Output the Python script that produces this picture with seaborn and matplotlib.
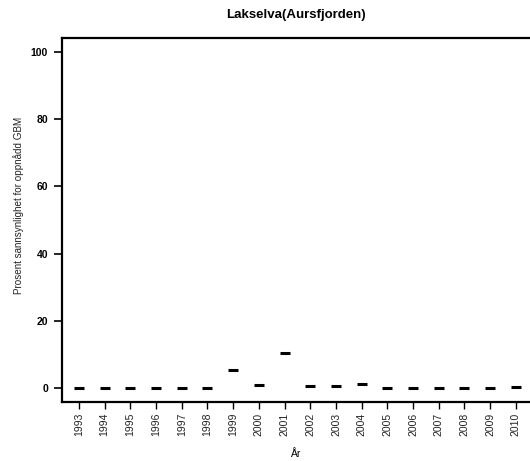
import matplotlib
matplotlib.use("Agg")
import matplotlib.pyplot as plt
import pandas as pd
import seaborn as sns

years = [str(y) for y in range(1993, 2011)]
percent = [0.0, 0.0, 0.0, 0.0, 0.0, 0.0, 5.4, 0.9, 10.4, 0.5, 0.5, 1.3,
           0.0, 0.0, 0.0, 0.0, 0.0, 0.2]
y_ticks = [0, 20, 40, 60, 80, 100]

df = pd.DataFrame({"year": years, "percent": percent})

sns.set_theme(style="white")
plt.rcParams["font.family"] = ["Liberation Sans", "DejaVu Sans"]
plt.rcParams["text.color"] = "black"
plt.rcParams["axes.labelcolor"] = "black"
plt.rcParams["xtick.color"] = "black"
plt.rcParams["ytick.color"] = "black"

fig = plt.figure(figsize=(5.30, 4.61), dpi=100)
ax = fig.add_axes([0.117, 0.129, 0.883, 0.789])

sns.scatterplot(data=df, x="year", y="percent", marker="_", s=55,
                linewidth=2.2, color="black", ax=ax, legend=False)

ax.set_xlim(-0.66, 17.55)
ax.set_ylim(-4.0, 104.2)
ax.set_yticks(y_ticks)
ax.set_yticklabels([str(t) for t in y_ticks], fontsize=7.5, fontweight="bold")
ax.tick_params(axis="y", direction="out", length=6, width=1.2, pad=4, left=True)
ax.tick_params(axis="x", direction="out", length=5, width=1.0, pad=3,
               labelrotation=90, labelsize=7.5, bottom=True, labelcolor="#222222")

for side in ["left", "bottom", "top"]:
    ax.spines[side].set_linewidth(1.6)
    ax.spines[side].set_color("black")
ax.spines["right"].set_visible(False)

ax.set_xlabel("År", fontsize=7.5, labelpad=9)
ax.set_ylabel("Prosent sannsynlighet for oppnådd GBM", fontsize=7.1,
              color="#222222")
ax.yaxis.set_label_coords(-0.082, 0.54)
ax.set_title("Lakselva(Aursfjorden)", fontsize=9.5, fontweight="bold", pad=14)

fig.savefig("out.png", dpi=100)
